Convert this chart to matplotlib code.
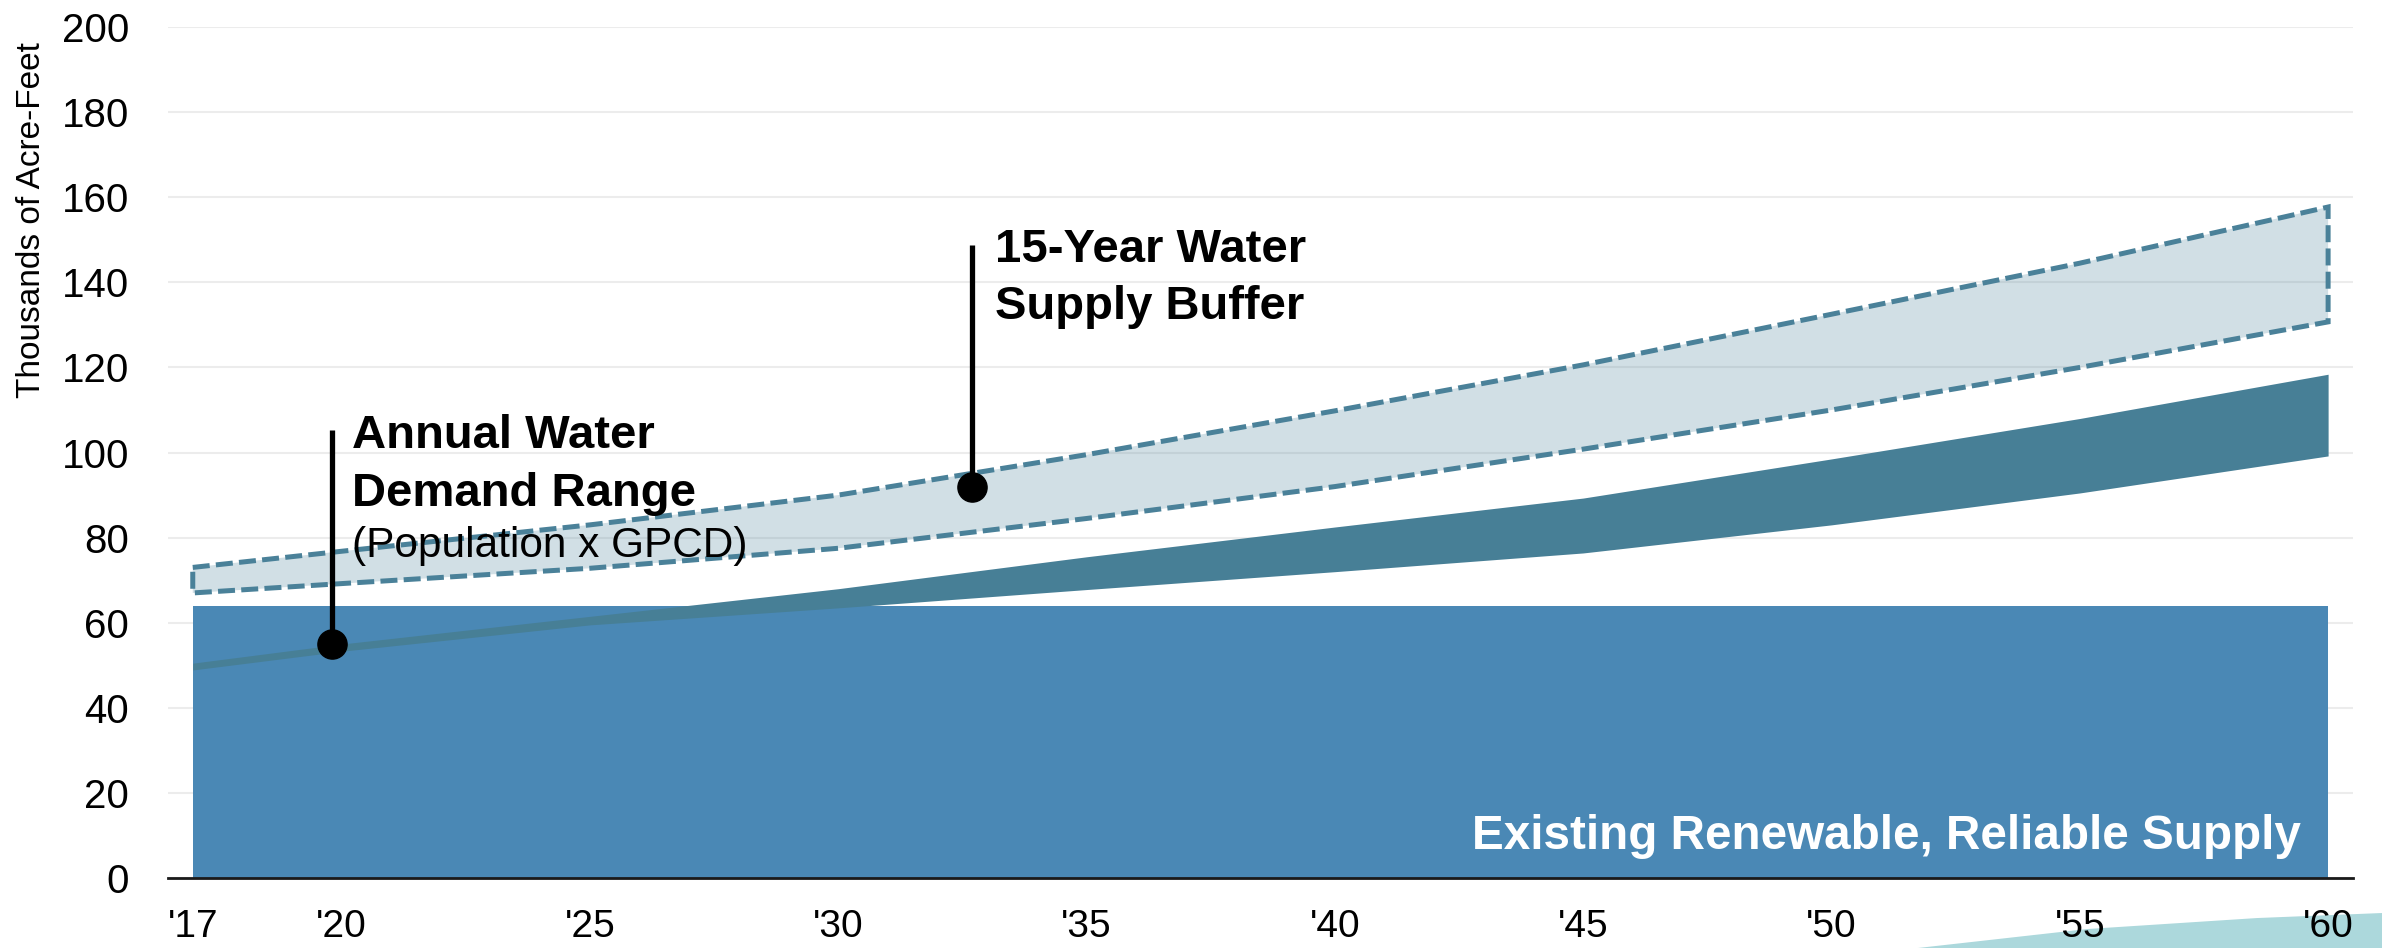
import numpy as np
import matplotlib.pyplot as plt
from matplotlib.patches import Polygon

plt.rcParams['font.family'] = ['Liberation Sans', 'DejaVu Sans']

# data (thousands of acre-feet)
years = [2017, 2020, 2025, 2030, 2035, 2040, 2045, 2050, 2055, 2060]
supply = [64, 64, 64, 64, 64, 64, 64, 64, 64, 64]
demand_low = [48.9, 53.3, 59.5, 63.5, 67.8, 72.0, 76.4, 83.0, 90.5, 99.2]
demand_high = [50.5, 55.0, 61.5, 68.0, 75.5, 82.5, 89.3, 98.5, 108.0, 118.4]
buffer_low = [67.0, 69.2, 72.8, 77.5, 84.5, 92.0, 100.8, 110.0, 120.0, 130.7]
buffer_high = [73.0, 76.8, 83.0, 90.0, 99.5, 109.8, 120.6, 132.5, 144.5, 157.7]

tick_years = [2017, 2020, 2025, 2030, 2035, 2040, 2045, 2050, 2055, 2060]
tick_labels = ["'17", "'20", "'25", "'30", "'35", "'40", "'45", "'50", "'55", "'60"]
y_ticks = [0, 20, 40, 60, 80, 100, 120, 140, 160, 180, 200]

# callouts: (year, value at dot, value at top of stem)
demand_callout = (2019.8, 55.0, 105.2)
buffer_callout = (2032.7, 91.9, 148.8)

BLUE = '#4a88b5'
TEAL = '#477f96'
DASH = '#4a8199'

fig = plt.figure(figsize=(23.82, 9.48), dpi=100)
ax = fig.add_axes([0.0705, 0.0738, 0.9173, 0.8977])
ax.set_facecolor('none')

x = np.array(years)
ax.fill_between(x, 0, supply, color=BLUE, lw=0, zorder=2)
ax.fill_between(x, demand_low, demand_high, color=TEAL, lw=0, zorder=3)

# buffer band: translucent fill with dashed outline
px = np.concatenate([x, x[::-1]])
py = np.concatenate([buffer_high, buffer_low[::-1]])
ax.fill(px, py, facecolor=(0.29, 0.506, 0.6, 0.25), edgecolor=DASH,
        lw=3.6, linestyle=(0, (3.4, 1.25)), joinstyle='miter', zorder=2)

# callout stems and dots
for cx, cy, ctop in [demand_callout, buffer_callout]:
    ax.plot([cx, cx], [cy, ctop], color='black', lw=3.8, zorder=5,
            solid_capstyle='butt')
    ax.plot([cx], [cy], 'o', color='black', ms=21, zorder=6)

ax.text(2020.2, 101.1, 'Annual Water', fontsize=34, fontweight='bold', zorder=7)
ax.text(2020.2, 87.4, 'Demand Range', fontsize=34, fontweight='bold', zorder=7)
ax.text(2020.2, 75.4, '(Population x GPCD)', fontsize=30.5, zorder=7)
ax.text(2033.15, 144.7, '15-Year Water', fontsize=34, fontweight='bold', zorder=7)
ax.text(2033.15, 131.4, 'Supply Buffer', fontsize=34, fontweight='bold', zorder=7)
ax.text(2059.45, 6.8, 'Existing Renewable, Reliable Supply', fontsize=34.3,
        fontweight='bold', color='white', ha='right', zorder=7)

ax.set_xlim(2016.5, 2060.5)
ax.set_ylim(0, 200)
ax.set_xticks(tick_years)
ax.set_xticklabels(tick_labels)
ax.set_yticks(y_ticks)
ax.tick_params(axis='both', length=0, labelsize=28)
ax.tick_params(axis='y', labelsize=29, pad=28)
ax.tick_params(axis='x', pad=22)
ax.grid(axis='y', color='#ececec', lw=1.5, zorder=0)
ax.set_axisbelow(True)
for s in ['left', 'right', 'top']:
    ax.spines[s].set_visible(False)
ax.spines['bottom'].set_color('#1a1a1a')
ax.spines['bottom'].set_linewidth(2)
ax.spines['bottom'].set_zorder(8)

fig.text(32 / 2382, 1 - 220 / 948, 'Thousands of Acre-Feet', fontsize=24,
         rotation=90, ha='center', va='center')

# slide decoration in the bottom-right corner
deco = Polygon([(0.8052, 0), (0.8762, 0.020), (0.9475, 0.0316), (1.0, 0.0369), (1.0, 0)],
               closed=True, transform=fig.transFigure, facecolor='#acd8dc',
               edgecolor='none', zorder=-1)
fig.patches.append(deco)

fig.savefig('out.png', dpi=100)
